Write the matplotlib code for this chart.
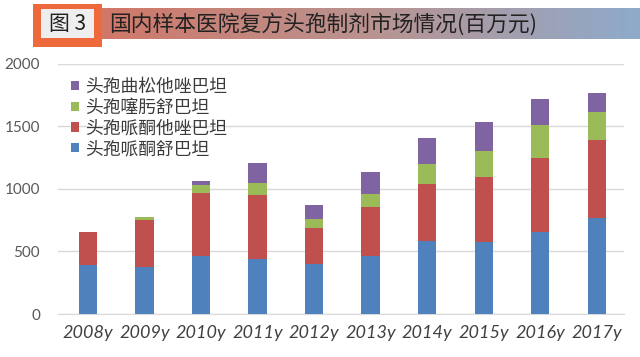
import matplotlib
matplotlib.use('Agg')
import matplotlib.pyplot as plt
import numpy as np
from matplotlib.patches import Rectangle

plt.rcParams['font.family'] = ['Noto Sans CJK SC', 'DejaVu Sans']

# ── Data (百万元) ───────────────────────────────────────────────────────────────
years = ['2008y', '2009y', '2010y', '2011y', '2012y',
         '2013y', '2014y', '2015y', '2016y', '2017y']
cefoperazone_sul = [392, 379, 464, 438, 398, 467, 584, 578, 658, 769]   # 头孢哌酮舒巴坦
cefoperazone_taz = [266, 372, 504, 512, 292, 390, 451, 518, 589, 619]   # 头孢哌酮他唑巴坦
cefotaxime_sul   = [0, 24, 62, 93, 69, 98, 159, 206, 260, 225]          # 头孢噻肟舒巴坦
ceftriaxone_taz  = [0, 0, 34, 164, 111, 181, 215, 231, 207, 151]        # 头孢曲松他唑巴坦

series = [
    ('头孢哌酮舒巴坦', cefoperazone_sul, '#4f81bd'),
    ('头孢哌酮他唑巴坦', cefoperazone_taz, '#c0504d'),
    ('头孢噻肟舒巴坦', cefotaxime_sul, '#9bbb59'),
    ('头孢曲松他唑巴坦', ceftriaxone_taz, '#8064a2'),
]

fig = plt.figure(figsize=(6.4, 3.57), dpi=100)
fig.patch.set_facecolor('white')

# ── Title banner ──────────────────────────────────────────────────────────────
bax = fig.add_axes([0, 0, 1, 1], zorder=0)
bax.set_xlim(0, 640)
bax.set_ylim(357, 0)
bax.axis('off')
grad = np.linspace(0, 1, 256).reshape(1, -1)
cmap = matplotlib.colors.LinearSegmentedColormap.from_list(
    'banner', ['#d07868', '#b99390', '#8eaacb'])
bax.imshow(grad, extent=(100, 640, 39, 8), aspect='auto', cmap=cmap, zorder=1)
bax.add_patch(Rectangle((33, 4), 69, 43, facecolor='#ee6a3c', edgecolor='none', zorder=2))
bax.add_patch(Rectangle((41, 9), 53, 29, facecolor='#eeeeee', edgecolor='none', zorder=3))
bax.text(67.5, 24, '图 3', ha='center', va='center', fontsize=15, color='#222222', zorder=4)
bax.text(109, 24, '国内样本医院复方头孢制剂市场情况(百万元)', ha='left', va='center',
         fontsize=15.7, color='#222222', zorder=4)

# ── Chart ────────────────────────────────────────────────────────────────────
ax = fig.add_axes([0.0906, 0.1204, 0.884, 0.7016], zorder=1)
ax.patch.set_alpha(0)
x = np.arange(len(years))
bottom = np.zeros(len(years))
handles = []
for label, vals, col in series:
    h = ax.bar(x, vals, width=0.32, bottom=bottom, color=col, label=label, zorder=3)
    handles.append(h)
    bottom += np.array(vals)

ax.set_ylim(0, 2000)
ax.set_xlim(-0.53, 9.48)
ax.set_yticks([0, 500, 1000, 1500, 2000])
ax.yaxis.grid(True, color='#d9d9d9', linewidth=1)
ax.set_axisbelow(True)
for s in ['top', 'right', 'left']:
    ax.spines[s].set_visible(False)
ax.spines['bottom'].set_color('#d9d9d9')
ax.tick_params(axis='both', length=0)
ax.tick_params(axis='y', pad=13, labelsize=11, labelcolor='#595959')
ax.set_xticks(x)
ax.set_xticklabels(years, fontsize=13, color='#404040', style='italic',
                   family=['Lato', 'DejaVu Sans'])
ax.tick_params(axis='x', pad=8)
for t in ax.get_yticklabels():
    t.set_family(['Lato', 'DejaVu Sans'])

leg = ax.legend(handles[::-1], [s[0] for s in series][::-1], loc='upper left',
                bbox_to_anchor=(0.004, 0.985), frameon=False,
                prop={'size': 12.8, 'weight': 'medium'},
                handlelength=0.45, handleheight=0.45, handletextpad=0.35,
                labelspacing=0.15, borderaxespad=0.2)
for t in leg.get_texts():
    t.set_color('#3a3a3a')

fig.savefig('out.png', dpi=100, facecolor='white')
